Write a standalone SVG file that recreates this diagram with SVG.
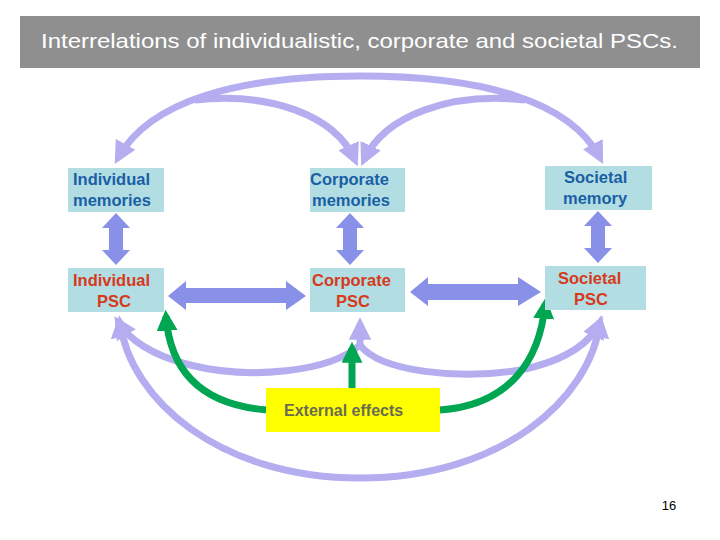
<svg xmlns="http://www.w3.org/2000/svg" width="720" height="540" viewBox="0 0 720 540">
<defs>
<style>
.box{fill:#b2dde2}
.mem{font:bold 16.5px "Liberation Sans",Arial,sans-serif;fill:#1a5fa5}
.psc{font:bold 16.5px "Liberation Sans",Arial,sans-serif;fill:#d63a1c}
.lav{fill:none;stroke:#b4aef0;stroke-width:7}
.grn{fill:none;stroke:#00a651;stroke-width:7}
.blk{fill:#8890e8}
</style>
<marker id="la" viewBox="0 0 10 10" refX="7" refY="5" markerWidth="3.2" markerHeight="3.2" orient="auto" markerUnits="strokeWidth"><path d="M0,0L10,5L0,10z" fill="#b4aef0"/></marker>
<marker id="ga" viewBox="0 0 10 10" refX="7" refY="5" markerWidth="3" markerHeight="3" orient="auto" markerUnits="strokeWidth"><path d="M0,0L10,5L0,10z" fill="#00a651"/></marker>
</defs>
<rect width="720" height="540" fill="#fff"/>
<g id="title"><rect x="20" y="16" width="680" height="52" fill="#8f8f8f"/>
<text x="41" y="48" font-family="Liberation Sans,Arial,sans-serif" font-size="21" fill="#fff" textLength="637" lengthAdjust="spacingAndGlyphs">Interrelations of individualistic, corporate and societal PSCs.</text></g>
<g id="connectors">
<path class="lav" marker-end="url(#la)" d="M360,76 C240,76 150,100 118,158"/>
<path class="lav" marker-end="url(#la)" d="M360,76 C480,76 570,100 600,158"/>
<path class="lav" marker-end="url(#la)" d="M195,100 C270,92 335,115 355,160"/>
<path class="lav" marker-end="url(#la)" d="M525,100 C450,92 385,115 364,160"/>
<path class="lav" marker-end="url(#la)" d="M360,345 C330,372 250,380 190,365 C150,355 128,338 118,322"/>
<path class="lav" marker-end="url(#la)" d="M360,345 C380,372 460,380 520,370 C570,360 592,340 600,322"/>
<path class="lav" marker-end="url(#la)" d="M360,345 L360,324"/>
<path class="lav" marker-end="url(#la)" d="M360,478 C220,478 130,400 120,322"/>
<path class="lav" marker-end="url(#la)" d="M360,478 C500,478 590,400 600,322"/>
<path class="grn" marker-end="url(#ga)" d="M268,410 C200,405 170,370 166,316"/>
<path class="grn" marker-end="url(#ga)" d="M440,410 C510,405 540,360 545,304"/>
<path class="grn" marker-end="url(#ga)" d="M352,388 L352,348"/>
<polygon class="blk" points="116,213 130,228 123,228 123,250 130,250 116,265 102,250 109,250 109,228 102,228"/>
<polygon class="blk" points="350,213 364,228 357,228 357,250 364,250 350,265 336,250 343,250 343,228 336,228"/>
<polygon class="blk" points="598,211 612,226 605,226 605,248 612,248 598,263 584,248 591,248 591,226 584,226"/>
<polygon class="blk" points="168,296 186,281 186,288 286,288 286,281 306,296 286,310 286,303 186,303 186,310"/>
<polygon class="blk" points="410,292 428,277 428,284 518,284 518,277 541,292 518,306 518,300 428,300 428,306"/>
</g>
<g id="individual-memories"><rect class="box" x="68" y="168" width="96" height="44"/><text class="mem" x="73" y="185">Individual</text><text class="mem" x="73" y="206">memories</text></g>
<g id="corporate-memories"><rect class="box" x="310" y="168" width="95" height="44"/><text class="mem" x="310" y="185">Corporate</text><text class="mem" x="312" y="206">memories</text></g>
<g id="societal-memory"><rect class="box" x="545" y="166" width="107" height="44"/><text class="mem" x="564" y="183">Societal</text><text class="mem" x="563" y="204">memory</text></g>
<g id="individual-psc"><rect class="box" x="68" y="268" width="96" height="44"/><text class="psc" x="73" y="286">Individual</text><text class="psc" x="97" y="307">PSC</text></g>
<g id="corporate-psc"><rect class="box" x="310" y="268" width="95" height="44"/><text class="psc" x="312" y="286">Corporate</text><text class="psc" x="336" y="307">PSC</text></g>
<g id="societal-psc"><rect class="box" x="545" y="266" width="101" height="44"/><text class="psc" x="558" y="284">Societal</text><text class="psc" x="574" y="305">PSC</text></g>
<g id="external-effects"><rect x="266" y="388" width="174" height="44" fill="#ffff00"/><text x="284" y="416" font-family="Liberation Sans,Arial,sans-serif" font-weight="bold" font-size="16" fill="#6b6b50">External effects</text></g>
<text x="669" y="510" font-family="Liberation Sans,Arial,sans-serif" font-size="13" fill="#000" text-anchor="middle">16</text>
</svg>
